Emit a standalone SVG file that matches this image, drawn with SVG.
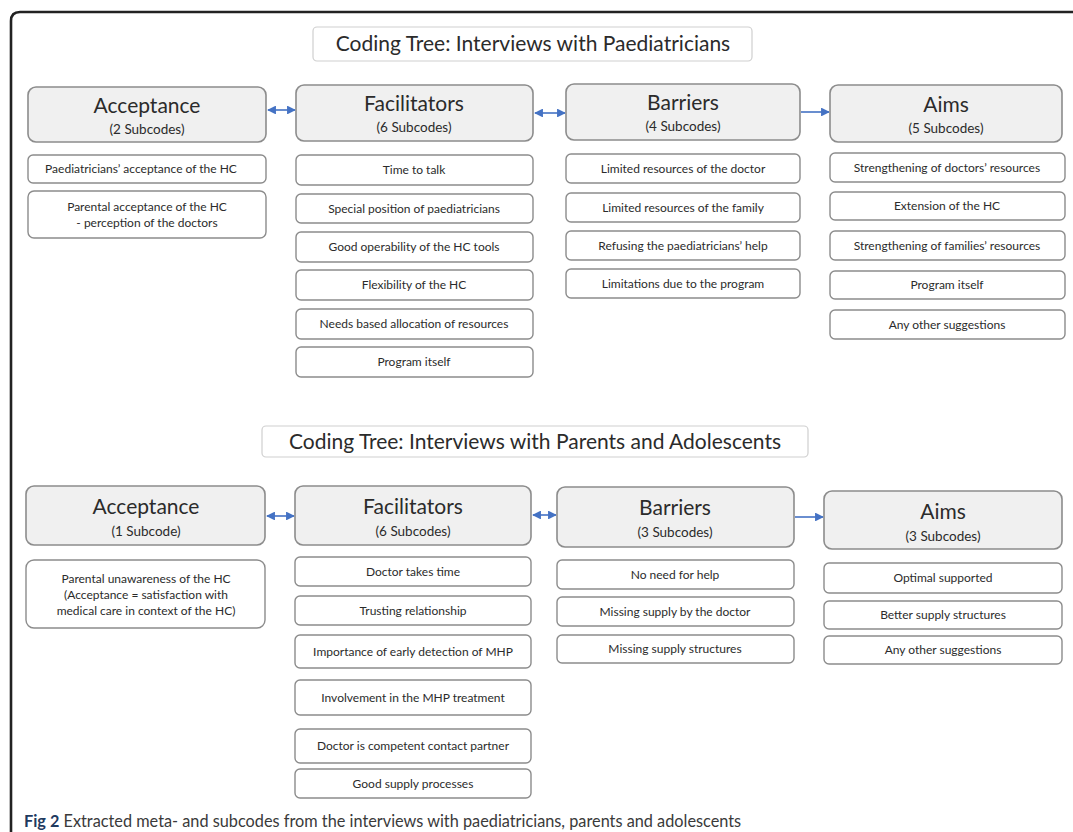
<svg xmlns="http://www.w3.org/2000/svg" width="1073" height="832" viewBox="0 0 1073 832">
  <style>
    .t { font-family: Lato, "Open Sans", "Liberation Sans", sans-serif; fill: #2b2b2b; text-anchor: middle; }
    .title { font-size: 21px; }
    .head { font-size: 21px; }
    .sub { font-size: 13.5px; }
    .item { font-size: 12px; }
    .tbox { fill: #ffffff; stroke: #cfcfcf; stroke-width: 1.2; }
    .hbox { fill: #f0f0f0; stroke: #8c8c8c; stroke-width: 1.6; }
    .ibox { fill: #ffffff; stroke: #8c8c8c; stroke-width: 1.4; }
    .link { stroke: #4472c4; stroke-width: 1.6; fill: none; }
    .cap { font-family: Lato, "Open Sans", "Liberation Sans", sans-serif; font-size: 16.3px; fill: #3a3a3a; }
  </style>
  <defs>
    <marker id="ah" viewBox="0 0 10 10" refX="9" refY="5" markerWidth="5.5" markerHeight="5.5" orient="auto-start-reverse">
      <path d="M0,0 L10,5 L0,10 z" fill="#4472c4"/>
    </marker>
  </defs>

  <rect width="1073" height="832" fill="#ffffff"/>
  <!-- outer frame -->
  <path d="M11,832 L11,21 Q11,12 20,12 L1073,12" fill="none" stroke="#222" stroke-width="2.6"/>

  <!-- section titles -->
  <g id="title-paediatricians">
    <rect class="tbox" x="313" y="27" width="439" height="34" rx="4"/>
    <text class="t title" x="533" y="51">Coding Tree: Interviews with Paediatricians</text>
  </g>
  <g id="title-parents">
    <rect class="tbox" x="262" y="426" width="546" height="31" rx="4"/>
    <text class="t title" x="535" y="449">Coding Tree: Interviews with Parents and Adolescents</text>
  </g>

  <!-- connectors -->
  <g id="connectors">
    <line class="link" x1="268" y1="110" x2="295" y2="110" marker-start="url(#ah)" marker-end="url(#ah)"/>
    <line class="link" x1="535" y1="113" x2="565" y2="113" marker-start="url(#ah)" marker-end="url(#ah)"/>
    <line class="link" x1="801" y1="112" x2="829" y2="112" marker-end="url(#ah)"/>
    <line class="link" x1="267" y1="516" x2="294" y2="516" marker-start="url(#ah)" marker-end="url(#ah)"/>
    <line class="link" x1="533" y1="515" x2="556" y2="515" marker-start="url(#ah)" marker-end="url(#ah)"/>
    <line class="link" x1="795" y1="517" x2="823" y2="517" marker-end="url(#ah)"/>
  </g>

  <!-- paediatricians: Acceptance -->
  <g id="p-acceptance">
    <rect class="hbox" x="28" y="87" width="238" height="55" rx="8"/>
    <text class="t head" x="147" y="113">Acceptance</text>
    <text class="t sub" x="147" y="134">(2 Subcodes)</text>
  </g>
  <g id="p-acc-1">
    <rect class="ibox" x="28" y="155" width="238" height="28" rx="5"/>
    <text class="t item" x="141" y="173">Paediatricians’ acceptance of the HC</text>
  </g>
  <g id="p-acc-2">
    <rect class="ibox" x="28" y="191" width="238" height="47" rx="6"/>
    <text class="t item" x="147" y="211">Parental acceptance of the HC</text>
    <text class="t item" x="147" y="227">- perception of the doctors</text>
  </g>

  <!-- paediatricians: Facilitators -->
  <g id="p-facilitators">
    <rect class="hbox" x="296" y="85" width="237" height="56" rx="8"/>
    <text class="t head" x="414" y="111">Facilitators</text>
    <text class="t sub" x="414" y="132">(6 Subcodes)</text>
  </g>
  <g id="p-fac-1"><rect class="ibox" x="296" y="155" width="237" height="30" rx="5"/><text class="t item" x="414" y="174">Time to talk</text></g>
  <g id="p-fac-2"><rect class="ibox" x="296" y="194" width="237" height="29" rx="5"/><text class="t item" x="414" y="213">Special position of paediatricians</text></g>
  <g id="p-fac-3"><rect class="ibox" x="296" y="232" width="237" height="30" rx="5"/><text class="t item" x="414" y="251">Good operability of the HC tools</text></g>
  <g id="p-fac-4"><rect class="ibox" x="296" y="270" width="237" height="30" rx="5"/><text class="t item" x="414" y="289">Flexibility of the HC</text></g>
  <g id="p-fac-5"><rect class="ibox" x="296" y="309" width="237" height="30" rx="5"/><text class="t item" x="414" y="328">Needs based allocation of resources</text></g>
  <g id="p-fac-6"><rect class="ibox" x="296" y="347" width="237" height="30" rx="5"/><text class="t item" x="414" y="366">Program itself</text></g>

  <!-- paediatricians: Barriers -->
  <g id="p-barriers">
    <rect class="hbox" x="566" y="84" width="234" height="56" rx="8"/>
    <text class="t head" x="683" y="110">Barriers</text>
    <text class="t sub" x="683" y="131">(4 Subcodes)</text>
  </g>
  <g id="p-bar-1"><rect class="ibox" x="566" y="154" width="234" height="29" rx="5"/><text class="t item" x="683" y="173">Limited resources of the doctor</text></g>
  <g id="p-bar-2"><rect class="ibox" x="566" y="193" width="234" height="29" rx="5"/><text class="t item" x="683" y="212">Limited resources of the family</text></g>
  <g id="p-bar-3"><rect class="ibox" x="566" y="231" width="234" height="29" rx="5"/><text class="t item" x="683" y="250">Refusing the paediatricians’ help</text></g>
  <g id="p-bar-4"><rect class="ibox" x="566" y="269" width="234" height="29" rx="5"/><text class="t item" x="683" y="288">Limitations due to the program</text></g>

  <!-- paediatricians: Aims -->
  <g id="p-aims">
    <rect class="hbox" x="830" y="85" width="232" height="57" rx="8"/>
    <text class="t head" x="946" y="112">Aims</text>
    <text class="t sub" x="946" y="133">(5 Subcodes)</text>
  </g>
  <g id="p-aim-1"><rect class="ibox" x="830" y="153" width="235" height="29" rx="5"/><text class="t item" x="947" y="172">Strengthening of doctors’ resources</text></g>
  <g id="p-aim-2"><rect class="ibox" x="830" y="192" width="235" height="28" rx="5"/><text class="t item" x="947" y="210">Extension of the HC</text></g>
  <g id="p-aim-3"><rect class="ibox" x="830" y="231" width="235" height="29" rx="5"/><text class="t item" x="947" y="250">Strengthening of families’ resources</text></g>
  <g id="p-aim-4"><rect class="ibox" x="830" y="271" width="235" height="28" rx="5"/><text class="t item" x="947" y="289">Program itself</text></g>
  <g id="p-aim-5"><rect class="ibox" x="830" y="310" width="235" height="29" rx="5"/><text class="t item" x="947" y="329">Any other suggestions</text></g>

  <!-- parents and adolescents: Acceptance -->
  <g id="a-acceptance">
    <rect class="hbox" x="26" y="486" width="239" height="59" rx="8"/>
    <text class="t head" x="146" y="514">Acceptance</text>
    <text class="t sub" x="146" y="536">(1 Subcode)</text>
  </g>
  <g id="a-acc-1">
    <rect class="ibox" x="26" y="560" width="239" height="68" rx="8"/>
    <text class="t item" x="146" y="583">Parental unawareness of the HC</text>
    <text class="t item" x="146" y="599">(Acceptance = satisfaction with</text>
    <text class="t item" x="146" y="615">medical care in context of the HC)</text>
  </g>

  <!-- parents and adolescents: Facilitators -->
  <g id="a-facilitators">
    <rect class="hbox" x="295" y="486" width="236" height="59" rx="8"/>
    <text class="t head" x="413" y="514">Facilitators</text>
    <text class="t sub" x="413" y="536">(6 Subcodes)</text>
  </g>
  <g id="a-fac-1"><rect class="ibox" x="295" y="557" width="236" height="29" rx="5"/><text class="t item" x="413" y="576">Doctor takes time</text></g>
  <g id="a-fac-2"><rect class="ibox" x="295" y="596" width="236" height="29" rx="5"/><text class="t item" x="413" y="615">Trusting relationship</text></g>
  <g id="a-fac-3"><rect class="ibox" x="295" y="635" width="236" height="33" rx="5"/><text class="t item" x="413" y="656">Importance of early detection of MHP</text></g>
  <g id="a-fac-4"><rect class="ibox" x="295" y="680" width="236" height="35" rx="5"/><text class="t item" x="413" y="702">Involvement in the MHP  treatment</text></g>
  <g id="a-fac-5"><rect class="ibox" x="295" y="729" width="236" height="34" rx="5"/><text class="t item" x="413" y="750">Doctor is competent contact partner</text></g>
  <g id="a-fac-6"><rect class="ibox" x="295" y="769" width="236" height="29" rx="5"/><text class="t item" x="413" y="788">Good supply processes</text></g>

  <!-- parents and adolescents: Barriers -->
  <g id="a-barriers">
    <rect class="hbox" x="557" y="487" width="237" height="60" rx="8"/>
    <text class="t head" x="675" y="515">Barriers</text>
    <text class="t sub" x="675" y="537">(3 Subcodes)</text>
  </g>
  <g id="a-bar-1"><rect class="ibox" x="557" y="560" width="237" height="29" rx="5"/><text class="t item" x="675" y="579">No need for help</text></g>
  <g id="a-bar-2"><rect class="ibox" x="557" y="597" width="237" height="29" rx="5"/><text class="t item" x="675" y="616">Missing supply by the doctor</text></g>
  <g id="a-bar-3"><rect class="ibox" x="557" y="635" width="237" height="28" rx="5"/><text class="t item" x="675" y="653">Missing supply structures</text></g>

  <!-- parents and adolescents: Aims -->
  <g id="a-aims">
    <rect class="hbox" x="824" y="491" width="238" height="58" rx="8"/>
    <text class="t head" x="943" y="519">Aims</text>
    <text class="t sub" x="943" y="541">(3 Subcodes)</text>
  </g>
  <g id="a-aim-1"><rect class="ibox" x="824" y="563" width="238" height="30" rx="5"/><text class="t item" x="943" y="582">Optimal supported</text></g>
  <g id="a-aim-2"><rect class="ibox" x="824" y="601" width="238" height="28" rx="5"/><text class="t item" x="943" y="619">Better supply structures</text></g>
  <g id="a-aim-3"><rect class="ibox" x="824" y="636" width="238" height="28" rx="5"/><text class="t item" x="943" y="654">Any other suggestions</text></g>

  <!-- caption -->
  <text class="cap" x="24" y="827"><tspan font-weight="bold" fill="#1f3a5f">Fig 2</tspan> Extracted meta- and subcodes from the interviews with paediatricians, parents and adolescents</text>
</svg>
